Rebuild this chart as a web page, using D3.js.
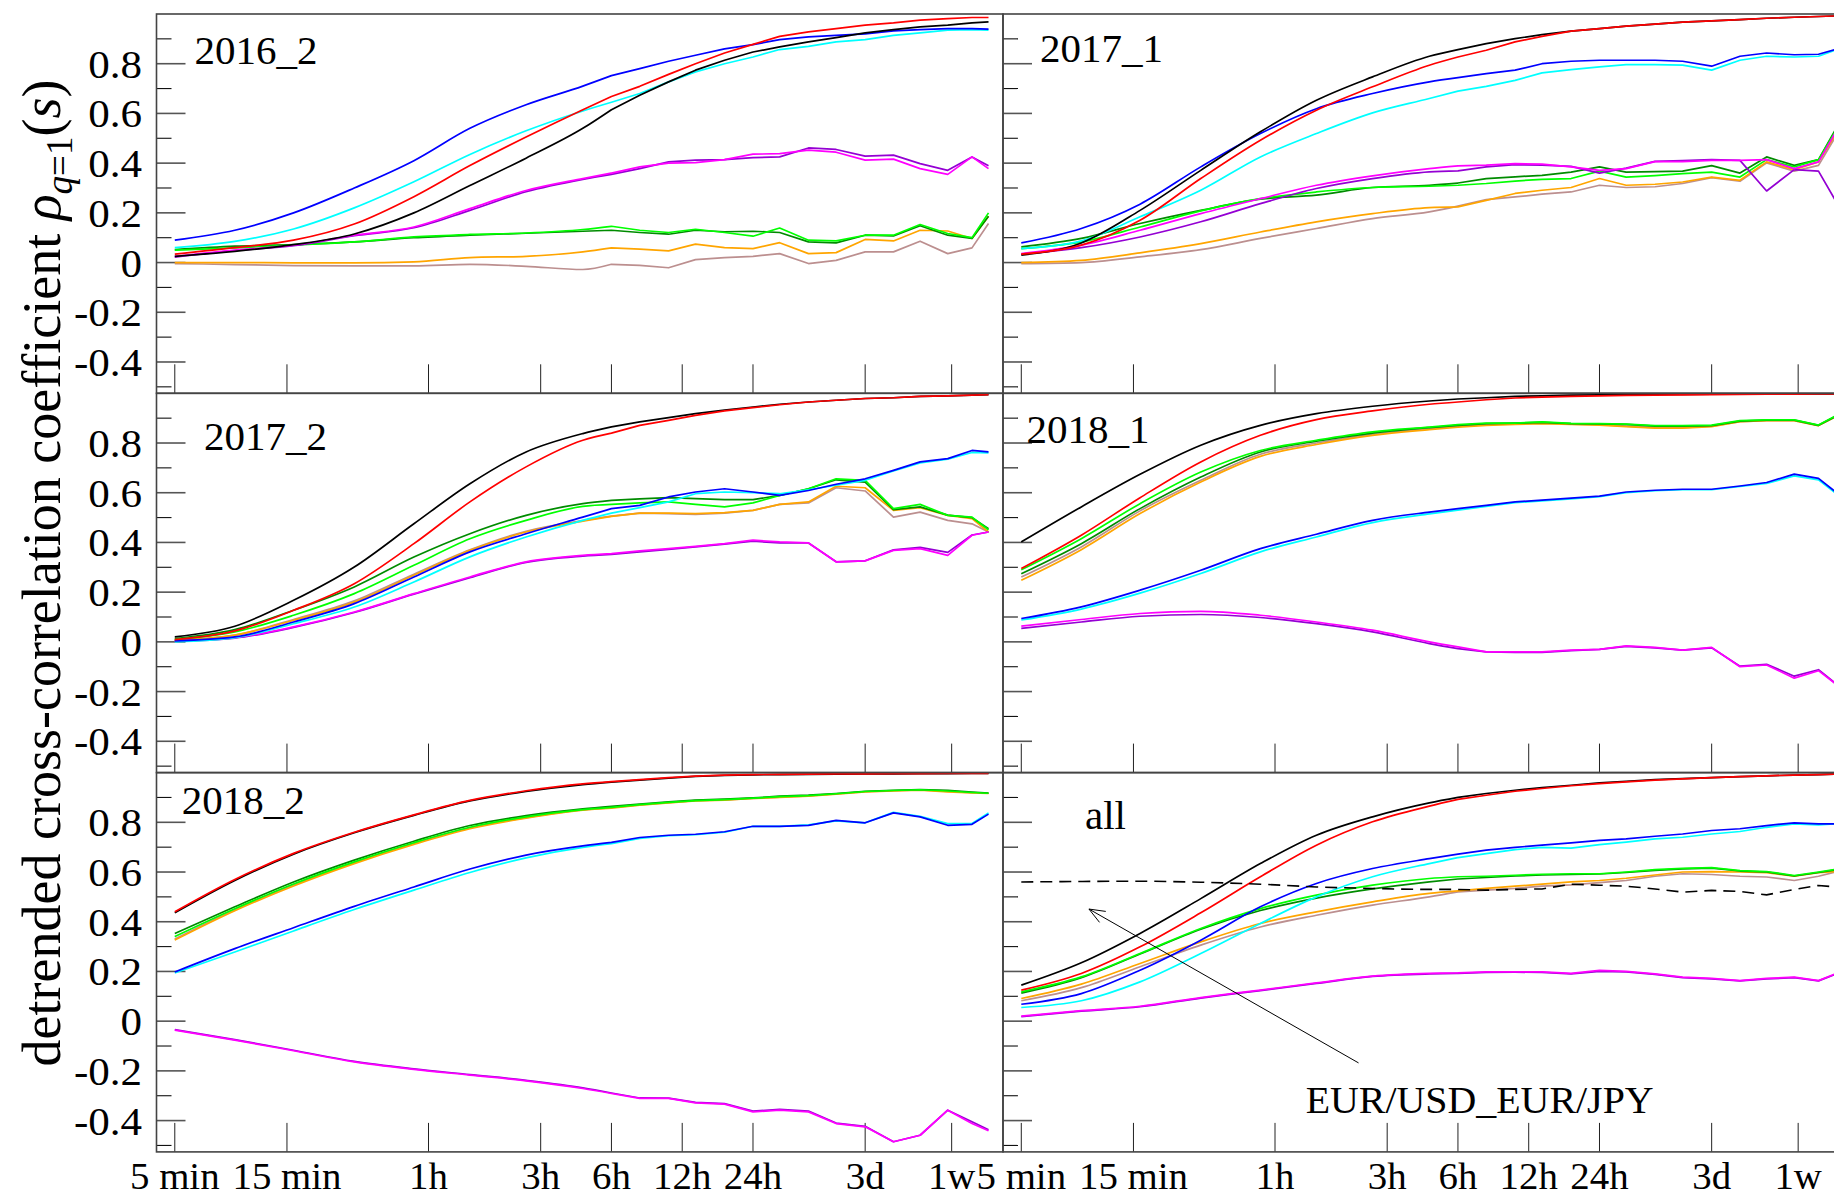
<!DOCTYPE html>
<html><head><meta charset="utf-8">
<script src="https://cdn.jsdelivr.net/npm/d3@7/dist/d3.min.js"></script>
<style>body{margin:0;background:#fff;overflow:hidden} svg{display:block}</style>
</head><body><svg id="c" width="1834" height="1199"></svg>
<script>
// time scales s (minutes)
const scales = [5, 9, 16, 29, 52, 90, 156, 272, 360, 475, 630, 820, 1090, 1440, 1870, 2480, 3250, 4320, 5700, 7400, 9700, 12300, 14460];
const xTickValues = [5, 15, 60, 180, 360, 720, 1440, 4320, 10080];
const xTickLabels = ["5 min", "15 min", "1h", "3h", "6h", "12h", "24h", "3d", "1w"];
const yMajor = [-0.4, -0.2, 0, 0.2, 0.4, 0.6, 0.8];
const yMinor = [-0.5, -0.3, -0.1, 0.1, 0.3, 0.5, 0.7, 0.9];
const yLabels = ["-0.4", "-0.2", "0", "0.2", "0.4", "0.6", "0.8"];
const panelNames = ["2016_2", "2017_1", "2017_2", "2018_1", "2018_2", "all"];
const seriesNames = ["brown", "orange", "darkgreen", "green", "purple", "magenta", "cyan", "blue", "black", "red"];
const seriesColors = ["#bc8f8f", "#ffa500", "#008b00", "#00ff00", "#9400d3", "#ff00ff", "#00ffff", "#0000ff", "#000000", "#ff0000"];

// ---- 2016_2
const black_2016_2 = [0.025,0.045,0.072,0.115,0.2,0.31,0.42,0.54,0.615,0.673,0.727,0.774,0.814,0.847,0.868,0.888,0.905,0.924,0.937,0.948,0.955,0.964,0.968];
const red_2016_2 = [0.034,0.06,0.09,0.155,0.265,0.39,0.505,0.615,0.668,0.709,0.757,0.80,0.843,0.878,0.91,0.928,0.941,0.955,0.964,0.975,0.981,0.986,0.986];
const blue_2016_2 = [0.09,0.13,0.2,0.3,0.41,0.54,0.635,0.71,0.752,0.78,0.81,0.834,0.86,0.877,0.897,0.908,0.914,0.92,0.932,0.937,0.941,0.941,0.939];
const cyan_2016_2 = [0.06,0.085,0.135,0.22,0.325,0.435,0.53,0.61,0.645,0.68,0.727,0.767,0.80,0.827,0.857,0.87,0.888,0.897,0.914,0.924,0.935,0.937,0.935];
const magenta_2016_2 = [0.025,0.05,0.07,0.11,0.143,0.217,0.29,0.338,0.36,0.385,0.40,0.402,0.414,0.436,0.438,0.452,0.444,0.412,0.416,0.378,0.355,0.425,0.378];
const purple_2016_2 = [0.022,0.048,0.068,0.108,0.14,0.21,0.285,0.335,0.355,0.378,0.405,0.412,0.414,0.422,0.425,0.461,0.455,0.428,0.432,0.398,0.371,0.425,0.389];
const green_2016_2 = [0.05,0.059,0.07,0.083,0.103,0.113,0.119,0.133,0.146,0.13,0.121,0.134,0.121,0.106,0.139,0.09,0.087,0.11,0.11,0.153,0.117,0.1,0.2];
const darkgreen_2016_2 = [0.052,0.066,0.072,0.083,0.1,0.11,0.118,0.126,0.13,0.121,0.114,0.13,0.124,0.126,0.121,0.083,0.079,0.11,0.107,0.148,0.11,0.097,0.186];
const orange_2016_2 = [0,0,-0.001,-0.001,0.003,0.02,0.025,0.043,0.059,0.054,0.047,0.074,0.06,0.056,0.08,0.036,0.04,0.093,0.087,0.13,0.127,0.097,0.186];
const brown_2016_2 = [-0.004,-0.008,-0.012,-0.013,-0.013,-0.007,-0.015,-0.028,-0.007,-0.011,-0.021,0.012,0.02,0.025,0.036,-0.004,0.009,0.043,0.043,0.086,0.036,0.059,0.157];

// ---- 2017_1
const black_2017_1 = [0.03,0.079,0.21,0.371,0.526,0.653,0.747,0.83,0.857,0.881,0.901,0.917,0.931,0.941,0.951,0.959,0.967,0.972,0.977,0.983,0.987,0.99,0.992];
const red_2017_1 = [0.034,0.07,0.17,0.338,0.492,0.613,0.707,0.794,0.827,0.854,0.888,0.91,0.931,0.941,0.951,0.959,0.967,0.972,0.977,0.983,0.987,0.99,0.992];
const blue_2017_1 = [0.079,0.137,0.235,0.385,0.519,0.619,0.68,0.727,0.744,0.76,0.774,0.80,0.81,0.814,0.814,0.814,0.81,0.79,0.83,0.843,0.836,0.838,0.857];
const cyan_2017_1 = [0.056,0.087,0.184,0.291,0.425,0.519,0.602,0.66,0.69,0.709,0.733,0.763,0.776,0.787,0.796,0.796,0.794,0.774,0.814,0.83,0.827,0.83,0.854];
const magenta_2017_1 = [0.036,0.07,0.13,0.197,0.257,0.311,0.349,0.378,0.389,0.392,0.398,0.396,0.385,0.371,0.378,0.406,0.406,0.411,0.411,0.414,0.378,0.405,0.52];
const purple_2017_1 = [0.034,0.06,0.103,0.164,0.237,0.298,0.338,0.365,0.369,0.385,0.394,0.392,0.387,0.36,0.38,0.407,0.41,0.414,0.411,0.288,0.374,0.368,0.253];
const green_2017_1 = [0.056,0.083,0.143,0.208,0.257,0.284,0.302,0.307,0.311,0.318,0.328,0.335,0.338,0.368,0.344,0.35,0.358,0.364,0.344,0.414,0.385,0.414,0.525];
const darkgreen_2017_1 = [0.063,0.097,0.157,0.21,0.255,0.271,0.302,0.311,0.32,0.338,0.345,0.351,0.364,0.385,0.364,0.366,0.368,0.39,0.36,0.425,0.391,0.414,0.532];
const orange_2017_1 = [0,0.009,0.039,0.076,0.123,0.164,0.197,0.221,0.224,0.25,0.278,0.291,0.302,0.338,0.311,0.315,0.324,0.344,0.331,0.405,0.374,0.405,0.512];
const brown_2017_1 = [-0.004,0,0.023,0.052,0.097,0.137,0.177,0.204,0.227,0.253,0.264,0.275,0.284,0.311,0.302,0.305,0.318,0.342,0.327,0.401,0.368,0.391,0.503];

// ---- 2017_2
const black_2017_2 = [0.02,0.063,0.167,0.301,0.475,0.636,0.764,0.838,0.865,0.885,0.902,0.918,0.932,0.945,0.956,0.965,0.972,0.979,0.982,0.988,0.99,0.993,0.995];
const red_2017_2 = [0.009,0.044,0.127,0.234,0.395,0.563,0.704,0.811,0.84,0.871,0.891,0.911,0.929,0.942,0.954,0.965,0.972,0.979,0.982,0.988,0.99,0.993,0.995];
const blue_2017_2 = [0.004,0.02,0.08,0.154,0.261,0.362,0.435,0.502,0.536,0.549,0.583,0.603,0.616,0.603,0.589,0.609,0.634,0.656,0.69,0.724,0.737,0.77,0.764];
const cyan_2017_2 = [0,0.017,0.073,0.14,0.241,0.342,0.422,0.489,0.518,0.54,0.563,0.596,0.603,0.6,0.596,0.612,0.63,0.65,0.688,0.72,0.735,0.762,0.76];
const magenta_2017_2 = [0.004,0.017,0.06,0.12,0.194,0.261,0.322,0.348,0.355,0.366,0.375,0.384,0.395,0.409,0.402,0.398,0.322,0.326,0.368,0.375,0.348,0.429,0.442];
const purple_2017_2 = [0.002,0.015,0.058,0.118,0.192,0.258,0.32,0.345,0.352,0.362,0.372,0.382,0.393,0.405,0.398,0.398,0.322,0.326,0.37,0.38,0.36,0.43,0.442];
const green_2017_2 = [0.009,0.04,0.107,0.194,0.308,0.415,0.489,0.545,0.553,0.559,0.563,0.553,0.543,0.559,0.589,0.616,0.656,0.65,0.536,0.553,0.509,0.502,0.451];
const darkgreen_2017_2 = [0.013,0.049,0.127,0.221,0.341,0.435,0.509,0.556,0.569,0.575,0.58,0.576,0.572,0.572,0.589,0.616,0.652,0.643,0.532,0.543,0.51,0.5,0.455];
const orange_2017_2 = [0.006,0.027,0.087,0.16,0.268,0.368,0.442,0.486,0.505,0.518,0.518,0.516,0.52,0.529,0.553,0.563,0.626,0.62,0.529,0.54,0.509,0.496,0.442];
const brown_2017_2 = [0.006,0.027,0.09,0.165,0.272,0.37,0.445,0.488,0.506,0.518,0.516,0.513,0.518,0.529,0.553,0.559,0.62,0.607,0.502,0.522,0.489,0.475,0.442];

// ---- 2018_1
const black_2018_1 = [0.402,0.543,0.674,0.791,0.871,0.918,0.948,0.969,0.977,0.982,0.988,0.99,0.993,0.994,0.995,0.996,0.996,0.997,0.997,0.998,0.998,0.998,0.998];
const red_2018_1 = [0.295,0.429,0.58,0.724,0.831,0.894,0.929,0.956,0.965,0.974,0.981,0.985,0.988,0.99,0.992,0.993,0.994,0.995,0.996,0.997,0.997,0.998,0.998];
const blue_2018_1 = [0.094,0.141,0.208,0.288,0.375,0.433,0.489,0.522,0.536,0.549,0.563,0.57,0.578,0.586,0.603,0.61,0.614,0.614,0.627,0.641,0.675,0.658,0.605];
const cyan_2018_1 = [0.088,0.132,0.196,0.275,0.362,0.422,0.48,0.515,0.53,0.545,0.56,0.567,0.575,0.584,0.6,0.608,0.612,0.612,0.625,0.637,0.668,0.652,0.6];
const magenta_2018_1 = [0.063,0.09,0.114,0.123,0.107,0.08,0.047,0,-0.02,-0.04,-0.04,-0.04,-0.033,-0.03,-0.016,-0.022,-0.033,-0.022,-0.1,-0.093,-0.146,-0.116,-0.167];
const purple_2018_1 = [0.054,0.08,0.103,0.11,0.098,0.073,0.04,-0.007,-0.027,-0.04,-0.042,-0.042,-0.035,-0.03,-0.018,-0.024,-0.033,-0.024,-0.098,-0.09,-0.138,-0.112,-0.165];
const green_2018_1 = [0.29,0.415,0.556,0.683,0.77,0.811,0.845,0.864,0.874,0.88,0.88,0.885,0.879,0.878,0.876,0.87,0.87,0.872,0.89,0.893,0.893,0.872,0.908];
const darkgreen_2018_1 = [0.274,0.395,0.536,0.663,0.764,0.807,0.84,0.862,0.871,0.878,0.88,0.883,0.878,0.877,0.875,0.868,0.868,0.87,0.888,0.892,0.892,0.871,0.906];
const orange_2018_1 = [0.248,0.371,0.516,0.643,0.746,0.794,0.831,0.854,0.864,0.871,0.875,0.878,0.875,0.872,0.866,0.86,0.86,0.866,0.886,0.89,0.89,0.87,0.905];
const brown_2018_1 = [0.261,0.382,0.527,0.65,0.755,0.8,0.835,0.858,0.867,0.874,0.878,0.88,0.876,0.874,0.868,0.862,0.862,0.868,0.886,0.89,0.89,0.87,0.905];

// ---- 2018_2
const black_2018_2 = [0.436,0.566,0.672,0.758,0.828,0.886,0.924,0.952,0.962,0.97,0.978,0.985,0.989,0.991,0.992,0.993,0.994,0.995,0.995,0.996,0.996,0.997,0.997];
const red_2018_2 = [0.44,0.57,0.675,0.76,0.83,0.888,0.927,0.955,0.964,0.972,0.98,0.986,0.99,0.992,0.993,0.994,0.995,0.995,0.996,0.996,0.997,0.997,0.997];
const blue_2018_2 = [0.198,0.292,0.376,0.462,0.54,0.612,0.668,0.705,0.719,0.739,0.748,0.752,0.762,0.784,0.784,0.788,0.808,0.798,0.838,0.822,0.788,0.792,0.833];
const cyan_2018_2 = [0.194,0.278,0.363,0.449,0.527,0.598,0.657,0.699,0.714,0.735,0.746,0.75,0.76,0.784,0.784,0.79,0.806,0.798,0.84,0.824,0.795,0.795,0.838];
const magenta_2018_2 = [-0.036,-0.076,-0.119,-0.164,-0.194,-0.217,-0.24,-0.271,-0.291,-0.311,-0.311,-0.329,-0.334,-0.365,-0.358,-0.365,-0.412,-0.425,-0.485,-0.459,-0.358,-0.412,-0.441];
const purple_2018_2 = [-0.034,-0.074,-0.117,-0.162,-0.192,-0.215,-0.238,-0.268,-0.289,-0.309,-0.31,-0.327,-0.332,-0.362,-0.355,-0.362,-0.41,-0.423,-0.485,-0.459,-0.358,-0.405,-0.437];
const green_2018_2 = [0.34,0.452,0.552,0.641,0.718,0.78,0.822,0.851,0.86,0.871,0.88,0.887,0.891,0.897,0.903,0.907,0.915,0.924,0.928,0.931,0.926,0.92,0.917];
const darkgreen_2018_2 = [0.353,0.46,0.56,0.648,0.724,0.787,0.827,0.854,0.864,0.873,0.882,0.889,0.893,0.898,0.905,0.909,0.916,0.925,0.929,0.932,0.929,0.922,0.918];
const orange_2018_2 = [0.326,0.444,0.544,0.634,0.711,0.774,0.817,0.849,0.857,0.869,0.878,0.886,0.889,0.896,0.9,0.905,0.913,0.922,0.926,0.929,0.922,0.918,0.916];
const brown_2018_2 = [0.33,0.448,0.548,0.638,0.714,0.777,0.819,0.85,0.859,0.87,0.879,0.887,0.89,0.896,0.901,0.906,0.914,0.923,0.927,0.93,0.924,0.919,0.917];

// ---- all
const black_all = [0.145,0.235,0.353,0.493,0.634,0.748,0.822,0.878,0.9,0.916,0.929,0.94,0.949,0.959,0.965,0.972,0.976,0.98,0.984,0.987,0.99,0.992,0.994];
const red_all = [0.125,0.192,0.299,0.436,0.581,0.708,0.802,0.865,0.892,0.909,0.925,0.936,0.947,0.956,0.963,0.97,0.975,0.98,0.984,0.987,0.99,0.992,0.994];
const blue_all = [0.068,0.111,0.205,0.326,0.46,0.554,0.614,0.654,0.672,0.688,0.699,0.708,0.717,0.727,0.733,0.744,0.753,0.767,0.774,0.787,0.798,0.794,0.794];
const cyan_all = [0.055,0.082,0.158,0.272,0.393,0.5,0.581,0.634,0.658,0.674,0.69,0.699,0.696,0.71,0.72,0.733,0.74,0.753,0.763,0.78,0.794,0.79,0.794];
const magenta_all = [0.02,0.042,0.06,0.095,0.125,0.154,0.181,0.192,0.194,0.198,0.198,0.198,0.192,0.204,0.2,0.19,0.177,0.172,0.163,0.172,0.177,0.163,0.19];
const purple_all = [0.018,0.04,0.058,0.093,0.123,0.152,0.18,0.19,0.192,0.196,0.197,0.196,0.19,0.2,0.198,0.188,0.175,0.17,0.162,0.17,0.175,0.162,0.188];
const green_all = [0.118,0.178,0.272,0.373,0.453,0.507,0.547,0.574,0.581,0.583,0.587,0.591,0.593,0.593,0.6,0.61,0.615,0.618,0.606,0.602,0.586,0.6,0.61];
const darkgreen_all = [0.113,0.175,0.27,0.37,0.445,0.495,0.532,0.56,0.572,0.578,0.584,0.588,0.59,0.592,0.598,0.607,0.613,0.616,0.604,0.6,0.584,0.598,0.608];
const orange_all = [0.091,0.149,0.232,0.319,0.393,0.44,0.48,0.514,0.524,0.534,0.543,0.551,0.56,0.566,0.575,0.588,0.6,0.602,0.6,0.597,0.583,0.597,0.602];
const brown_all = [0.082,0.135,0.219,0.306,0.379,0.426,0.467,0.5,0.52,0.527,0.534,0.543,0.548,0.557,0.566,0.583,0.593,0.59,0.583,0.58,0.566,0.583,0.6];
const dashed_all = [0.56,0.562,0.563,0.559,0.551,0.54,0.534,0.53,0.53,0.527,0.53,0.532,0.551,0.547,0.543,0.532,0.519,0.526,0.522,0.508,0.53,0.546,0.54];

// annotation (data coordinates of the "all" panel)
const annotationText = "EUR/USD_EUR/JPY";
const arrowFrom = [136, -0.168];
const arrowTo = [9.7, 0.451];
const annotationAt = [81, -0.369];

const panelSeries = [
  [brown_2016_2, orange_2016_2, darkgreen_2016_2, green_2016_2, purple_2016_2, magenta_2016_2, cyan_2016_2, blue_2016_2, black_2016_2, red_2016_2],
  [brown_2017_1, orange_2017_1, darkgreen_2017_1, green_2017_1, purple_2017_1, magenta_2017_1, cyan_2017_1, blue_2017_1, black_2017_1, red_2017_1],
  [brown_2017_2, orange_2017_2, darkgreen_2017_2, green_2017_2, purple_2017_2, magenta_2017_2, cyan_2017_2, blue_2017_2, black_2017_2, red_2017_2],
  [brown_2018_1, orange_2018_1, darkgreen_2018_1, green_2018_1, purple_2018_1, magenta_2018_1, cyan_2018_1, blue_2018_1, black_2018_1, red_2018_1],
  [brown_2018_2, orange_2018_2, darkgreen_2018_2, green_2018_2, purple_2018_2, magenta_2018_2, cyan_2018_2, blue_2018_2, black_2018_2, red_2018_2],
  [brown_all, orange_all, darkgreen_all, green_all, purple_all, magenta_all, cyan_all, blue_all, black_all, red_all]
];

// ---- layout
const W = 1834, H = 1199;
const PW = 846.5, PH = 379.3;
const colX = [156.5, 1003];
const rowY = [14, 393.3, 772.6];
const labelOffsets = [[38, 50], [37, 48], [47.5, 57], [23.6, 50], [25.3, 41], [82, 56]];
const FONT = "'Liberation Serif', 'Times New Roman', serif";
const SMOOTH_N = 9; // the dense early part is drawn smooth

const svg = d3.select("#c");
svg.append("rect").attr("width", W).attr("height", H).attr("fill", "#fff");

const x = d3.scaleLog().domain([4.18, 16665]).range([0, PW]);
const y = d3.scaleLinear().domain([-0.526, 1.0]).range([PH, 0]);

const lineSmooth = d3.line().x(d => x(d[0])).y(d => y(d[1])).curve(d3.curveMonotoneX);
const lineStraight = d3.line().x(d => x(d[0])).y(d => y(d[1]));
function pathFor(vals) {
  const pts = vals.map((v, k) => [scales[k], v]);
  const a = lineSmooth(pts.slice(0, SMOOTH_N));
  const b = lineStraight(pts.slice(SMOOTH_N - 1)).replace(/^M/, "L");
  return a + b;
}

panelNames.forEach((name, i) => {
  const col = i % 2, row = Math.floor(i / 2);
  const g = svg.append("g").attr("transform", `translate(${colX[col]},${rowY[row]})`);
  const clipId = "clip" + i;
  g.append("clipPath").attr("id", clipId).append("rect").attr("width", PW).attr("height", PH);

  g.selectAll(".ymaj").data(yMajor).join("line")
    .attr("x1", 0).attr("x2", 29).attr("y1", d => y(d)).attr("y2", d => y(d))
    .attr("stroke", "#555").attr("stroke-width", 1.6);
  g.selectAll(".ymin").data(yMinor).join("line")
    .attr("x1", 0).attr("x2", 15).attr("y1", d => y(d)).attr("y2", d => y(d))
    .attr("stroke", "#111").attr("stroke-width", 1.1);
  g.selectAll(".xt").data(xTickValues).join("line")
    .attr("x1", d => x(d)).attr("x2", d => x(d)).attr("y1", PH).attr("y2", PH - 29)
    .attr("stroke", "#222").attr("stroke-width", 1);

  if (col === 0) {
    g.selectAll(".yl").data(yMajor).join("text")
      .attr("transform", d => `translate(-14.5,${y(d)}) scale(1.05,1)`)
      .attr("dy", "0.34em").attr("text-anchor", "end")
      .attr("font-family", FONT).attr("font-size", 41).attr("fill", "#000")
      .text((d, k) => yLabels[k]);
  }
  if (row === 2) {
    g.selectAll(".xl").data(xTickValues).join("text")
      .attr("transform", d => `translate(${x(d)},${PH + 37.5}) scale(1.05,1)`)
      .attr("text-anchor", "middle")
      .attr("font-family", FONT).attr("font-size", 37).attr("fill", "#000")
      .text((d, k) => xTickLabels[k]);
  }

  const lg = g.append("g").attr("clip-path", `url(#${clipId})`);
  panelSeries[i].forEach((vals, s) => {
    lg.append("path").attr("d", pathFor(vals)).attr("fill", "none")
      .attr("stroke", seriesColors[s]).attr("stroke-width", 1.7)
      .attr("stroke-linejoin", "round");
  });
  if (name === "all") {
    lg.append("path").attr("d", pathFor(dashed_all)).attr("fill", "none")
      .attr("stroke", "#000").attr("stroke-width", 1.6).attr("stroke-dasharray", "12,7");
    const [fx, fy] = [x(arrowFrom[0]), y(arrowFrom[1])];
    const [tx, ty] = [x(arrowTo[0]), y(arrowTo[1])];
    g.append("line").attr("x1", fx).attr("y1", fy).attr("x2", tx).attr("y2", ty)
      .attr("stroke", "#000").attr("stroke-width", 1);
    const ang = Math.atan2(fy - ty, fx - tx);
    [0.38, -0.38].forEach(da => {
      g.append("line").attr("x1", tx).attr("y1", ty)
        .attr("x2", tx + 17 * Math.cos(ang + da)).attr("y2", ty + 17 * Math.sin(ang + da))
        .attr("stroke", "#000").attr("stroke-width", 1);
    });
    g.append("text").attr("transform", `translate(${x(annotationAt[0])},${y(annotationAt[1])}) scale(1.05,1)`)
      .attr("font-family", FONT).attr("font-size", 38).attr("fill", "#000").text(annotationText);
  }
  g.append("text").attr("x", labelOffsets[i][0]).attr("y", labelOffsets[i][1])
    .attr("font-family", FONT).attr("font-size", 41).attr("fill", "#000").text(name);
  g.append("rect").attr("width", PW).attr("height", PH).attr("fill", "none")
    .attr("stroke", "#444").attr("stroke-width", 1.6);
});

// y-axis title
const title = svg.append("text")
  .attr("transform", "translate(60,573) rotate(-90)")
  .attr("text-anchor", "middle").attr("font-family", FONT).attr("font-size", 54).attr("fill", "#000");
title.append("tspan").text("detrended cross-correlation coefficient ");
title.append("tspan").attr("font-style", "italic").text("ρ");
title.append("tspan").attr("font-style", "italic").attr("font-size", 37).attr("dy", 12).text("q");
title.append("tspan").attr("font-size", 37).text("=1");
title.append("tspan").attr("dy", -12).text("(");
title.append("tspan").attr("font-style", "italic").text("s");
title.append("tspan").text(")");
</script>
</body></html>
